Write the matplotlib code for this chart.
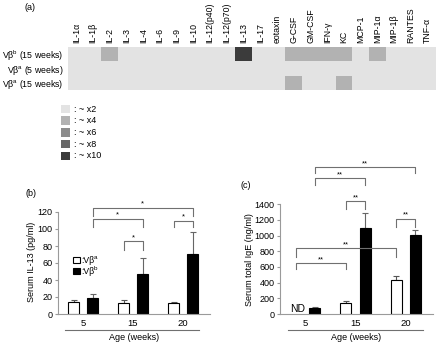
import matplotlib
matplotlib.use('Agg')
import matplotlib.pyplot as plt
from matplotlib.colors import ListedColormap
from matplotlib.patches import Rectangle
import numpy as np

plt.rcParams['font.family'] = ['Liberation Sans', 'DejaVu Sans']
plt.rcParams['mathtext.fontset'] = 'custom'
plt.rcParams['mathtext.rm'] = 'Liberation Sans'
plt.rcParams['mathtext.it'] = 'Liberation Sans:italic'

# ---------------- data ----------------
cytokines = ['IL-1α', 'IL-1β', 'IL-2', 'IL-3', 'IL-4', 'IL-6', 'IL-9', 'IL-10',
             'IL-12(p40)', 'IL-12(p70)', 'IL-13', 'IL-17', 'eotaxin', 'G-CSF',
             'GM-CSF', 'IFN-γ', 'KC', 'MCP-1', 'MIP-1α', 'MIP-1β', 'RANTES', 'TNF-α']
row_labels = [r'Vβ$^{\rm b}$ (15 weeks)', r'Vβ$^{\rm a}$ (5 weeks)', r'Vβ$^{\rm a}$ (15 weeks)']
# fold-change level: 1=~x2, 2=~x4, 3=~x6, 4=~x8, 5=~x10
row_b15 = [1, 1, 2, 1, 1, 1, 1, 1, 1, 1, 5, 1, 1, 2, 2, 2, 2, 1, 2, 1, 1, 1]
row_a5  = [1, 1, 1, 1, 1, 1, 1, 1, 1, 1, 1, 1, 1, 1, 1, 1, 1, 1, 1, 1, 1, 1]
row_a15 = [1, 1, 1, 1, 1, 1, 1, 1, 1, 1, 1, 1, 1, 2, 1, 1, 2, 1, 1, 1, 1, 1]
fold_labels = [': ~ x2', ': ~ x4', ': ~ x6', ': ~ x8', ': ~ x10']
fold_colors = ['#e3e3e3', '#b2b2b2', '#8c8c8c', '#676767', '#3b3b3b']

ages = ['5', '15', '20']
series_sup = ['a', 'b']
il13_a = [14, 13.5, 13]
il13_a_err = [2.5, 2.5, 1]
il13_b = [19, 47, 71]
il13_b_err = [4, 19, 25]
ige_a = [np.nan, 145, 430]   # 5 weeks: ND
ige_a_err = [0, 20, 60]
ige_b = [72, 1100, 1005]
ige_b_err = [18, 190, 65]

# brackets: (group1, series1, group2, series2, y_top, y_end, label) ; series 0=Vβa, 1=Vβb
brackets_b = [(0, 1, 1, 1, 112, 102, '*'), (0, 1, 2, 1, 125, 115, '*'),
              (1, 0, 1, 1, 86, 75, '*'), (2, 0, 2, 1, 110, 102, '*')]
brackets_c = [(0, 0, 1, 0, 645, 580, '**'), (0, 0, 2, 0, 836, 725, '**'),
              (1, 0, 1, 1, 1438, 1336, '**'), (2, 0, 2, 1, 1218, 1112, '**'),
              (0, 1, 1, 1, 1735, 1642, '**'), (0, 1, 2, 1, 1875, 1795, '**')]

# ---------------- layout ----------------
W, H = 437, 344
fig = plt.figure(figsize=(W / 100, H / 100), dpi=100)
FS = 6.5


def rect(l, t, r, b):
    return [l / W, 1 - b / H, (r - l) / W, (b - t) / H]


ax_bg = fig.add_axes([0, 0, 1, 1])
ax_bg.set_xlim(0, W)
ax_bg.set_ylim(H, 0)
ax_bg.axis('off')

# ---------------- (a) heatmap ----------------
ax_h = fig.add_axes(rect(68, 47, 436, 90))
data = np.array([row_b15, row_a5, row_a15])
ax_h.imshow(data, cmap=ListedColormap(fold_colors), vmin=0.5, vmax=5.5,
            aspect='auto', interpolation='nearest')
ax_h.set_xticks(range(len(cytokines)))
ax_h.set_xticklabels(cytokines, rotation=90, fontsize=6.3)
ax_h.xaxis.tick_top()
ax_h.set_yticks(range(3))
ax_h.set_yticklabels(row_labels, fontsize=6.3)
ax_h.tick_params(axis='x', length=0, pad=3)
ax_h.tick_params(axis='y', length=0, pad=3)
for s in ax_h.spines.values():
    s.set_visible(False)

ax_bg.text(30, 8, '(a)', ha='center', va='center', fontsize=FS)
for i, (c, lab) in enumerate(zip(fold_colors, fold_labels)):
    yc = 109 + i * 11.7
    ax_bg.add_patch(Rectangle((61, yc - 4.3), 9, 8.6, fc=c, ec='none'))
    ax_bg.text(74, yc, lab, ha='left', va='center', fontsize=FS)

# ---------------- bar panels ----------------
x = np.arange(len(ages))
off, bw = 0.19, 0.22
axis_col = '#9a9a9a'


def style(ax, ymax, step):
    ax.set_xlim(-0.5, 2.54)
    ax.set_ylim(0, ymax)
    ax.set_yticks(np.arange(0, ymax + 1, step))
    ax.set_xticks(x)
    ax.set_xticklabels(ages, fontsize=FS + 0.3)
    for s in ['top', 'right']:
        ax.spines[s].set_visible(False)
    for s in ['left', 'bottom']:
        ax.spines[s].set_color(axis_col)
        ax.spines[s].set_linewidth(0.8)
    ax.tick_params(axis='x', length=0, pad=3.5)
    ax.tick_params(axis='y', length=2.5, width=0.8, color=axis_col, labelsize=FS, pad=1.5)
    ax.patch.set_visible(False)


def bars(ax, a, ae, b, be):
    ax.bar(x - off, a, bw, fc='white', ec='black', lw=0.8, zorder=2)
    ax.bar(x + off, b, bw, fc='black', ec='black', lw=0.8, zorder=2)
    ax.errorbar(x - off, a, yerr=[np.zeros(3), ae], fmt='none', ecolor='#555555',
                elinewidth=0.8, capsize=2, capthick=0.8, zorder=1)
    ax.errorbar(x + off, b, yerr=[np.zeros(3), be], fmt='none', ecolor='#666666',
                elinewidth=0.8, capsize=2, capthick=0.8, zorder=1)


def draw_brackets(ax, specs):
    for g1, s1, g2, s2, yt, ye, lab in specs:
        x1 = g1 + (off if s1 else -off)
        x2 = g2 + (off if s2 else -off)
        ax.plot([x1, x1, x2, x2], [ye, yt, yt, ye], color='#707070', lw=0.8,
                clip_on=False)
        ax.text((x1 + x2) / 2, yt, lab, ha='center', va='bottom', fontsize=5.5)


# (b)
ax_b = fig.add_axes(rect(58, 212, 210, 314))
style(ax_b, 120, 20)
bars(ax_b, il13_a, il13_a_err, il13_b, il13_b_err)
draw_brackets(ax_b, brackets_b)
ax_bg.text(31, 194, '(b)', ha='center', va='center', fontsize=FS)
ax_bg.text(32, 262, 'Serum IL-13 (pg/ml)', rotation=90, ha='center', va='center', fontsize=FS)
ax_bg.plot([65, 199], [330, 330], color='#707070', lw=0.8)
ax_bg.text(134, 338, 'Age (weeks)', ha='center', va='center', fontsize=FS)
for i, (fc, sup) in enumerate(zip(['white', 'black'], series_sup)):
    yc = 260 + i * 11
    ax_bg.add_patch(Rectangle((73.3, yc - 3.1), 6.7, 6.3, fc=fc, ec='black', lw=0.8))
    ax_bg.text(81, yc + 0.3, ':Vβ', ha='left', va='center', fontsize=6.2)
    ax_bg.text(93.5, yc - 2.2, sup, ha='left', va='center', fontsize=4.6)

# (c)
ax_c = fig.add_axes(rect(280, 204.3, 433, 314))
style(ax_c, 1400, 200)
bars(ax_c, ige_a, ige_a_err, ige_b, ige_b_err)
ax_c.text(-0.14, 0, 'ND', ha='center', va='bottom', fontsize=7.5)
draw_brackets(ax_c, brackets_c)
ax_bg.text(246, 186, '(c)', ha='center', va='center', fontsize=FS)
ax_bg.text(250, 260, 'Serum total IgE (ng/ml)', rotation=90, ha='center', va='center', fontsize=FS)
ax_bg.plot([288, 423], [330, 330], color='#707070', lw=0.8)
ax_bg.text(356, 338, 'Age (weeks)', ha='center', va='center', fontsize=FS)

fig.savefig('out.png', dpi=100)
